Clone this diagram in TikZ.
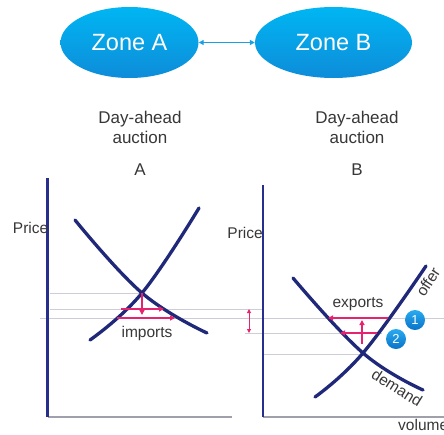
\documentclass[tikz,border=0pt]{standalone}
\usepackage{fontspec}
\setmainfont{Liberation Sans}
\usetikzlibrary{shapes.geometric,arrows.meta}
\definecolor{navy}{RGB}{32,40,122}
\definecolor{axisnavy}{RGB}{40,46,140}
\definecolor{xgray}{RGB}{160,160,172}
\definecolor{gridgray}{RGB}{205,205,215}
\definecolor{pinkarr}{RGB}{230,35,110}
\definecolor{txtgray}{RGB}{55,55,55}
\definecolor{zonetop}{RGB}{0,182,242}
\definecolor{zonebot}{RGB}{14,140,218}
\definecolor{zonearrow}{RGB}{26,160,224}
\definecolor{badgetop}{RGB}{40,170,240}
\definecolor{badgebot}{RGB}{10,115,200}
\tikzset{
  zone/.style={ellipse, inner sep=0pt, top color=zonetop, bottom color=zonebot, draw=none,
    text=white, font=\fontsize{23.5}{26}\selectfont},
  lbl/.style={text=txtgray, inner sep=0pt, font=\fontsize{17}{20}\selectfont, align=center},
  small/.style={text=txtgray, inner sep=0pt, font=\fontsize{15.5}{18}\selectfont},
  yaxis/.style={draw=axisnavy, line width=2.2pt},
  xaxis/.style={draw=xgray, line width=1.4pt},
  curve/.style={draw=navy, line width=3.3pt, line cap=round},
  grid/.style={draw=gridgray, line width=0.8pt},
  parr/.style={draw=pinkarr, line width=1.6pt, -{Triangle[length=5pt,width=5pt]}},
  pdarr/.style={draw=pinkarr, line width=1pt, {Triangle[length=4pt,width=4pt]}-{Triangle[length=4pt,width=4pt]}},
  badge/.style={circle, minimum size=20pt, inner sep=0pt, top color=badgetop, bottom color=badgebot,
    text=white, font=\fontsize{13}{14}\selectfont}
}
\begin{document}
\begin{tikzpicture}[x=1pt,y=-1pt]
\useasboundingbox (0,0) rectangle (444,434);
% zones
\node[zone, minimum width=138pt, minimum height=71pt] (za) at (129.5,42.5) {Zone A};
\node[zone, minimum width=157pt, minimum height=71pt] (zb) at (333.5,42.5) {Zone B};
\draw[zonearrow, line width=1.6pt, {Triangle[length=5pt,width=5pt]}-{Triangle[length=5pt,width=5pt]}] (za.east) -- (zb.west);
% titles
\node[lbl] (daa) at (140,127) {Day-ahead\\auction};
\node[lbl] (dab) at (357,127) {Day-ahead\\auction};
\node[lbl] (ta) at (140,170) {A};
\node[lbl] (tb) at (357,170) {B};
% grid lines
\coordinate (g1a) at (50,293); \coordinate (g1b) at (142,293);
\coordinate (g2a) at (50,309); \coordinate (g2b) at (262,309);
\coordinate (g3a) at (40,318); \coordinate (g3b) at (444,318);
\coordinate (g4a) at (245,333); \coordinate (g4b) at (382,333);
\coordinate (g5a) at (263,354); \coordinate (g5b) at (362,354);
\draw[grid] (g1a) -- (g1b);
\draw[grid] (g2a) -- (g2b);
\draw[grid] (g3a) -- (g3b);
\draw[grid] (g4a) -- (g4b);
\draw[grid] (g5a) -- (g5b);
% axes A
\coordinate (oa) at (47.5,417);
\coordinate (yat) at (47.5,178);
\coordinate (xae) at (232,417);
\draw[xaxis] (oa) -- (xae);
\draw[yaxis] (oa) -- (yat);
% axes B
\coordinate (ob) at (263,417);
\coordinate (ybt) at (263,185);
\coordinate (xbe) at (444,417);
\draw[xaxis] (ob) -- (xbe);
\draw[yaxis] (ob) -- (ybt);
% labels
\node[small, anchor=east] (pa) at (48.5,228) {Price};
\node[small, anchor=east] (pb) at (263,233) {Price};
\node[small, anchor=west] (vol) at (398,425) {volume};
% curves A
\draw[curve] plot[smooth, tension=0.7] coordinates {(75,220) (142,293) (207,333)};
\draw[curve] plot[smooth, tension=0.7] coordinates {(90,340) (142,293) (199,208)};
% curves B
\draw[curve] plot[smooth, tension=0.7] coordinates {(293,278) (363,353) (423,390)};
\draw[curve] plot[smooth, tension=0.7] coordinates {(315,397) (363,353) (426,266)};
% arrows A
\coordinate (va1) at (142,293); \coordinate (va2) at (142,315);
\coordinate (ha1) at (121,309); \coordinate (ha2) at (164,309);
\coordinate (hb1) at (117,318); \coordinate (hb2) at (175,318);
\draw[parr] (va1) -- (va2);
\draw[parr] (ha1) -- (ha2);
\draw[parr] (hb1) -- (hb2);
\node[small] (imp) at (147,333) {imports};
% double arrow
\coordinate (d1) at (249,309); \coordinate (d2) at (249,333);
\draw[pdarr] (d1) -- (d2);
% arrows B
\coordinate (vb1) at (362,344); \coordinate (vb2) at (362,320);
\coordinate (hc1) at (388,318); \coordinate (hc2) at (328,318);
\coordinate (hd1) at (377,333); \coordinate (hd2) at (340,333);
\draw[parr] (vb1) -- (vb2);
\draw[parr] (hc1) -- (hc2);
\draw[parr] (hd1) -- (hd2);
\node[small] (exp) at (358,304) {exports};
\node[small, rotate=57] (off) at (428,282) {offer};
\node[small, rotate=-32] (dem) at (397,388) {demand};
% badges
\node[badge] (b1) at (415,320) {1};
\node[badge] (b2) at (396,339) {2};
\end{tikzpicture}
\end{document}
